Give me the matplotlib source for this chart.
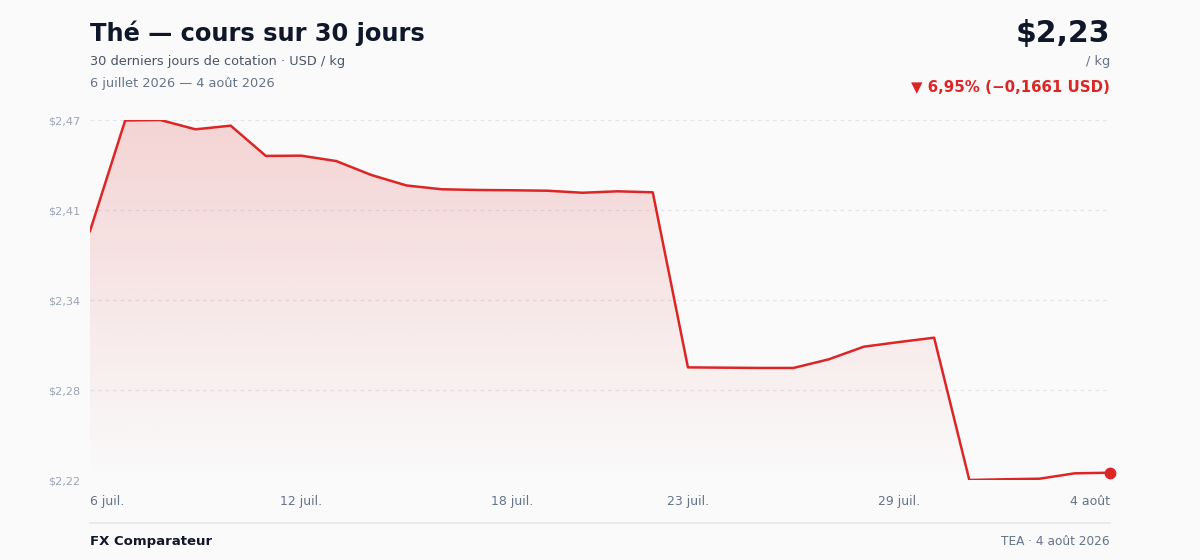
import matplotlib
matplotlib.use("Agg")
import matplotlib.pyplot as plt
import numpy as np
from matplotlib.colors import to_rgb

# ---- data ----
days = list(range(30))  # 6 juil. .. 4 août (consecutive days)
prices = [2.3916, 2.4676, 2.4679, 2.4615, 2.4640, 2.4432, 2.4434, 2.4397, 2.4301, 2.4229,
          2.4203, 2.4198, 2.4196, 2.4193, 2.4179, 2.4189, 2.4182, 2.2979, 2.2977, 2.2975,
          2.2975, 2.3034, 2.3121, 2.3153, 2.3183, 2.2205, 2.2210, 2.2214, 2.2251, 2.2255]
xtick_idx = [0, 6, 12, 17, 23, 29]
xtick_labels = ["6 juil.", "12 juil.", "18 juil.", "23 juil.", "29 juil.", "4 août"]

title = "Thé — cours sur 30 jours"
subtitle = "30 derniers jours de cotation · USD / kg"
date_range = "6 juillet 2026 — 4 août 2026"
price_label = "$2,23"
unit_label = "/ kg"
change_label = "▼ 6,95% (−0,1661 USD)"
brand = "FX Comparateur"
source = "TEA · 4 août 2026"

RED = "#dc2626"
BG = "#fafafa"

W, H = 1200, 560
fig = plt.figure(figsize=(W / 100, H / 100), dpi=100, facecolor=BG)
plt.rcParams['font.family'] = ['DejaVu Sans']

def px(x, y):
    return x / W, 1 - y / H

ax = fig.add_axes([90 / W, 80 / H, 1020 / W, 360 / H], facecolor=BG)
ymin, ymax = min(prices), max(prices)
ax.set_xlim(0, 29)
ax.set_ylim(ymin, ymax)

# gradient fill
poly = ax.fill_between(days, prices, ymin, color="none", lw=0)
grad = np.zeros((256, 1, 4))
r, g, b = to_rgb(RED)
grad[:, 0, 0] = r
grad[:, 0, 1] = g
grad[:, 0, 2] = b
grad[:, 0, 3] = np.linspace(0.18, 0.0, 256)
im = ax.imshow(grad, extent=[0, 29, ymin, ymax], aspect="auto", origin="upper", zorder=1)
paths = poly.get_paths()
im.set_clip_path(paths[0], transform=ax.transData)

ax.plot(days, prices, color=RED, lw=1.8, zorder=3, solid_joinstyle="round")
ax.plot([days[-1]], [prices[-1]], "o", color=RED, ms=7.5, zorder=4, clip_on=False)

# grid
yticks = np.linspace(ymin, ymax, 5)
for yt in yticks:
    ax.axhline(yt, color="#e2e5ea", lw=0.9, ls=(0, (3, 3)), zorder=0.5)
ax.set_yticks(yticks)
ax.set_yticklabels([f"${v:.2f}".replace(".", ",") for v in yticks])
ax.tick_params(axis="y", length=0, pad=7, labelsize=8.1, labelcolor="#9aa5b8")
ax.set_xticks(xtick_idx)
ax.set_xticklabels(xtick_labels)
ax.tick_params(axis="x", length=0, pad=10.5, labelsize=9, labelcolor="#64748b")
xt = ax.get_xticklabels()
xt[0].set_ha("left")
xt[-1].set_ha("right")
for s in ax.spines.values():
    s.set_visible(False)

# header texts
fig.text(*px(90, 41.5), title, fontsize=17.4, fontweight="bold", color="#0f172a", ha="left", va="baseline")
fig.text(*px(90, 65.5), subtitle, fontsize=9.3, color="#475569", ha="left", va="baseline")
fig.text(*px(90, 87.5), date_range, fontsize=9.3, color="#64748b", ha="left", va="baseline")
fig.text(*px(1110, 42), price_label, fontsize=21.5, fontweight="bold", color="#0f172a", ha="right", va="baseline")
fig.text(*px(1110, 65.5), unit_label, fontsize=9.3, color="#64748b", ha="right", va="baseline")
fig.text(*px(1110, 92), change_label, fontsize=10.8, fontweight="bold", color=RED, ha="right", va="baseline")

# footer
fig.add_artist(plt.Line2D([90 / W, 1110 / W], [1 - 523 / H, 1 - 523 / H], color="#e5e7eb", lw=1.2))
fig.text(*px(90, 545), brand, fontsize=9.5, fontweight="bold", color="#0f172a", ha="left", va="baseline")
fig.text(*px(1110, 545), source, fontsize=8.7, color="#64748b", ha="right", va="baseline")

fig.savefig("out.png", dpi=100, facecolor=BG)
